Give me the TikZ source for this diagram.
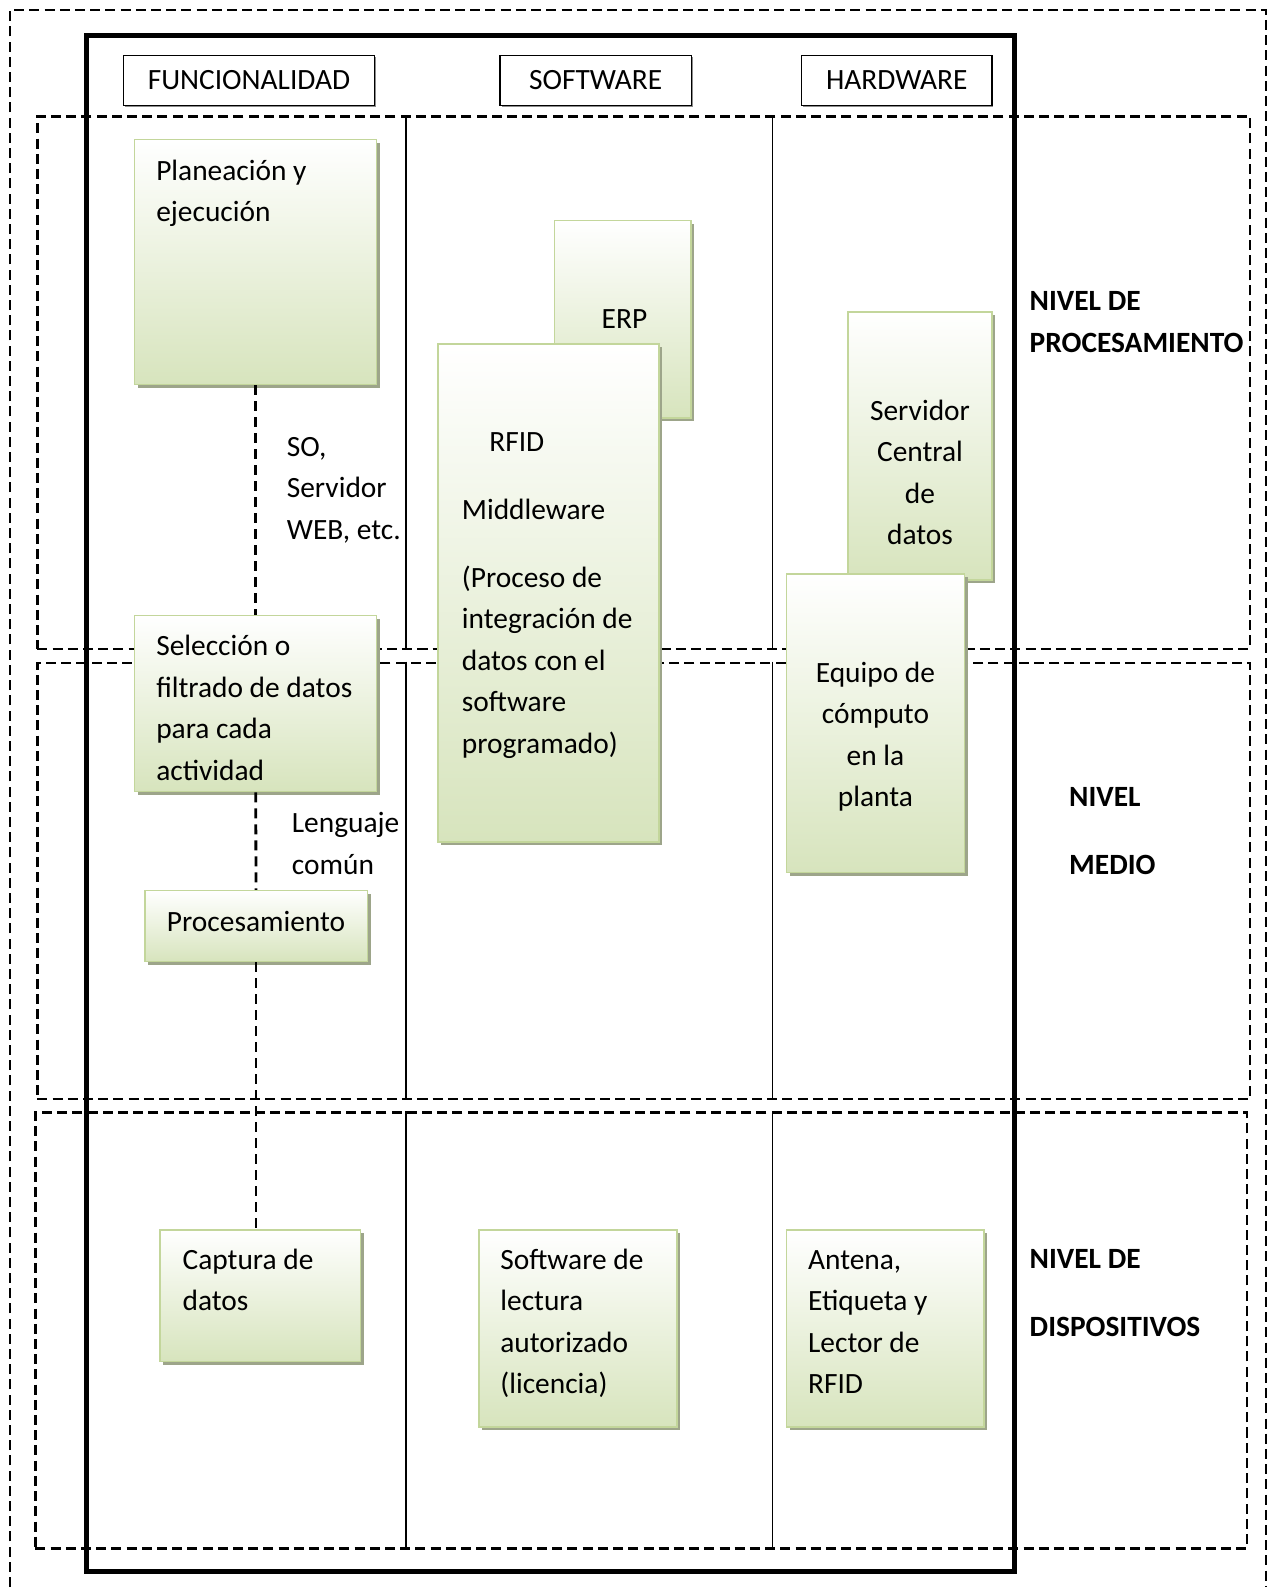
\documentclass[tikz,border=0pt]{standalone}
\usepackage{xcolor}
\usepackage{fontspec}
\setmainfont{Carlito}
\usepackage{tikz}
\usetikzlibrary{positioning,fit,shadows}
\definecolor{boxgreen}{HTML}{D7E4BD}
\definecolor{boxline}{HTML}{C3D69B}
\definecolor{boxshadow}{HTML}{9DA58A}

\begin{document}
\begin{tikzpicture}[
  x=0.506pt,y=-0.506pt,
  level/.style={draw,dash pattern=on 5pt off 2.6pt,line width=1.2pt,inner sep=0pt},
  colline/.style={line width=0.75pt},
  header/.style={draw,line width=0.75pt,inner sep=0pt,fill=white,minimum height=24.8pt,font=\fontsize{14.7pt}{20.75pt}\selectfont,drop shadow={shadow xshift=0.8pt,shadow yshift=-0.8pt,fill=black!45,opacity=1}},
  gbox/.style={draw=boxline,line width=0.8pt,inner sep=0pt,top color=white,middle color=boxgreen!40!white,bottom color=boxgreen,drop shadow={shadow xshift=1.6pt,shadow yshift=-1.6pt,fill=boxshadow,opacity=1}},
  txt/.style={inner sep=0pt,align=left,anchor=base west,font=\fontsize{14.7pt}{20.75pt}\selectfont},
  ctxt/.style={txt,align=center,anchor=base},
  nivel/.style={txt,font=\fontsize{14.7pt}{20.75pt}\selectfont\bfseries},
  link/.style={dash pattern=on 5pt off 3pt,line width=1.4pt}
]
\useasboundingbox (0,0) rectangle (1255,1568);

% marco exterior
\draw[level] (10,1568) -- (10,10) -- (1251,10) -- (1251,1568);

% niveles
\node[level,fit={(37,115) (1235,641)}] (lproc) {};
\node[level,fit={(37,655) (1235,1086)}] (lmed) {};
\node[level,fit={(35,1099) (1232,1530)}] (ldisp) {};
\foreach \lv in {lproc,lmed,ldisp}
  \foreach \x in {401,763}
    \draw[colline] (\x,0 |- \lv.north) -- (\x,0 |- \lv.south);

% columnas
\draw[line width=2.5pt] (85,35) rectangle (1002,1553);
\node[header,minimum width=125.5pt] (hfun) at (246,79.5) {FUNCIONALIDAD};
\node[header,minimum width=95.6pt] (hsw) at (588.5,79.5) {SOFTWARE};
\node[header,minimum width=95.1pt] (hhw) at (886,79.5) {HARDWARE};

% funcionalidad (base = ultima linea)
\node[gbox,fit={(133,138) (372,380)}] (plan) {};
\node[txt] (plan-t) at (154,219) {Planeación y\\ejecución};
\node[gbox,fit={(133,608) (372,782)}] (sel) {};
\node[txt] (sel-t) at (154,771) {Selección o\\filtrado de datos\\para cada\\actividad};
\node[gbox,fit={(143,880) (363,950)}] (proc) {};
\node[ctxt] (proc-t) at (253,920) {Procesamiento};
\node[gbox,fit={(158,1215) (356,1345)}] (capt) {};
\node[txt] (capt-t) at (180,1295) {Captura de\\datos};

\draw[link] (plan) -- (sel);
\draw[link] (sel) -- (proc);
\draw[link] (proc.south) -- (proc.south |- capt.north);
\node[txt] (so-t) at (283,533) {SO,\\Servidor\\WEB, etc.};
\node[txt] (leng-t) at (288,864) {Lenguaje\\común};

% software
\node[gbox,fit={(548,218) (683,413)}] (erp) {};
\node[ctxt] (erp-t) at (617,325) {ERP};
\node[gbox,fit={(433,340) (651,832)}] (rfid) {};
\node[txt] (rfid-t) at (456,744) {\hspace*{13.7pt}RFID\\[13pt]Middleware\\[13pt](Proceso de\\integración de\\datos con el\\software\\programado)};
\node[gbox,fit={(473,1215) (669,1410)}] (swlect) {};
\node[txt] (swlect-t) at (494,1377) {Software de\\lectura\\autorizado\\(licencia)};

% hardware
\node[gbox,fit={(838,308) (980,573)}] (serv) {};
\node[ctxt] (serv-t) at (909,538) {Servidor\\Central\\de\\datos};
\node[gbox,fit={(777,567) (953,862)}] (equipo) {};
\node[ctxt] (equipo-t) at (865,797) {Equipo de\\cómputo\\en la\\planta};
\node[gbox,fit={(777,1215) (972,1410)}] (antena) {};
\node[txt] (antena-t) at (798,1377) {Antena,\\Etiqueta y\\Lector de\\RFID};

% nombres de nivel
\node[nivel] (nproc) at (1017,348) {NIVEL DE\\PROCESAMIENTO};
\node[nivel] (nmed) at (1056,864) {NIVEL\\[13pt]MEDIO};
\node[nivel] (ndisp) at (1017,1320) {NIVEL DE\\[13pt]DISPOSITIVOS};
\end{tikzpicture}
\end{document}
